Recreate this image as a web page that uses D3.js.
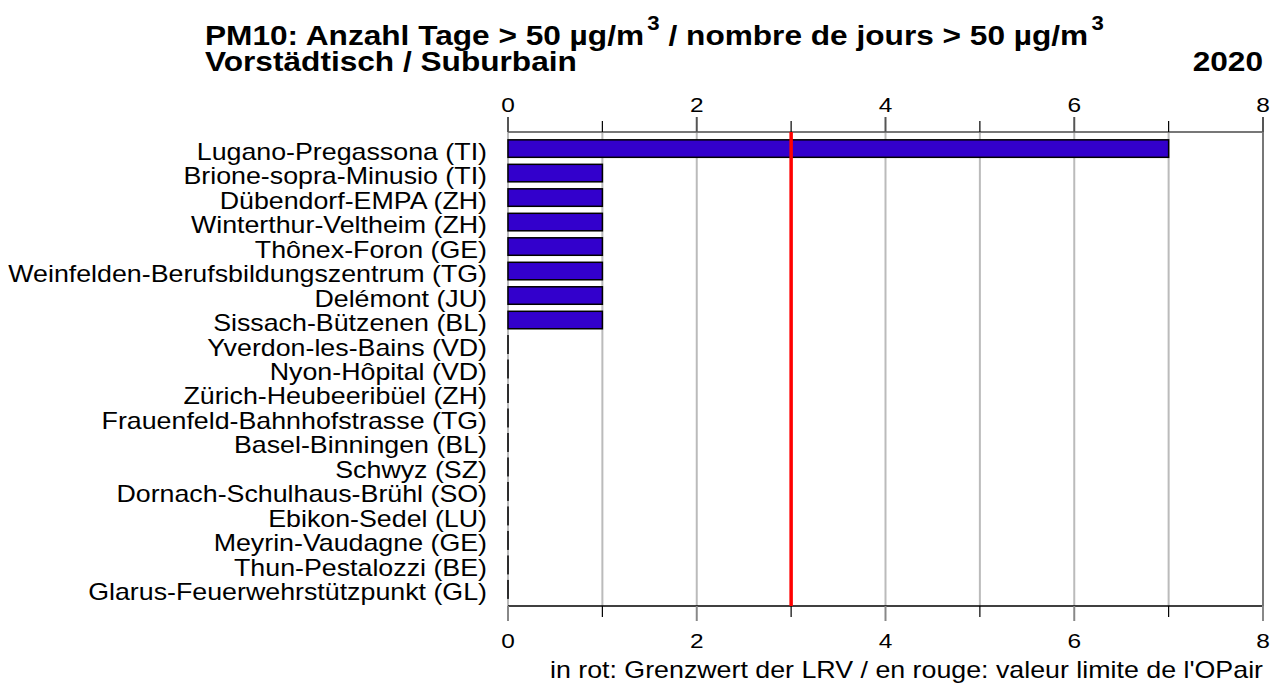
<!DOCTYPE html>
<html lang="de">
<head>
<meta charset="UTF-8">
<title>PM10 Vorstädtisch 2020</title>
<script src="https://cdn.jsdelivr.net/npm/d3@7"></script>
<style>
  body { margin: 0; background: #fff; }
  text { font-family: "Liberation Sans", Arial, sans-serif; fill: #000; }
</style>
</head>
<body>
<svg width="1280" height="683"></svg>
<script>
// stations (top to bottom) and number of days > 50 µg/m3
const stations = [
  "Lugano-Pregassona (TI)", "Brione-sopra-Minusio (TI)", "Dübendorf-EMPA (ZH)",
  "Winterthur-Veltheim (ZH)", "Thônex-Foron (GE)", "Weinfelden-Berufsbildungszentrum (TG)",
  "Delémont (JU)", "Sissach-Bützenen (BL)", "Yverdon-les-Bains (VD)", "Nyon-Hôpital (VD)",
  "Zürich-Heubeeribüel (ZH)", "Frauenfeld-Bahnhofstrasse (TG)", "Basel-Binningen (BL)",
  "Schwyz (SZ)", "Dornach-Schulhaus-Brühl (SO)", "Ebikon-Sedel (LU)", "Meyrin-Vaudagne (GE)",
  "Thun-Pestalozzi (BE)", "Glarus-Feuerwehrstützpunkt (GL)"
];
const days = [7, 1, 1, 1, 1, 1, 1, 1, 0, 0, 0, 0, 0, 0, 0, 0, 0, 0, 0];
const limit = 3;
const xTicks = [0, 2, 4, 6, 8];
const gridVals = [0, 1, 2, 3, 4, 5, 6, 7, 8];

const svg = d3.select("svg");
const plotL = 508, plotR = 1263, plotT = 132, plotB = 606;
const stretch = 1.165; // text in the original is a bit wider than Arial

const x = d3.scaleLinear().domain([0, 8]).range([plotL, plotR]);
const y = d3.scaleBand().domain(stations).range([plotT, plotB])
  .paddingInner(0.286).paddingOuter(0.32);

// grid lines
svg.append("g").selectAll("line").data(gridVals).join("line")
  .attr("x1", d => x(d)).attr("x2", d => x(d))
  .attr("y1", plotT).attr("y2", plotB)
  .attr("stroke", "#bbb").attr("stroke-width", 2);

// frame lines
svg.append("line").attr("x1", plotL).attr("x2", plotR).attr("y1", plotT).attr("y2", plotT)
  .attr("stroke", "#777").attr("stroke-width", 2);
svg.append("line").attr("x1", plotL).attr("x2", plotR).attr("y1", plotB).attr("y2", plotB)
  .attr("stroke", "#000").attr("stroke-width", 1.5);
svg.append("line").attr("x1", plotR).attr("x2", plotR).attr("y1", plotT).attr("y2", plotB)
  .attr("stroke", "#777").attr("stroke-width", 2);

// ticks, top and bottom
gridVals.forEach(v => {
  const major = xTicks.includes(v);
  svg.append("line").attr("x1", x(v)).attr("x2", x(v))
    .attr("y1", plotT - (major ? 15 : 11)).attr("y2", plotT)
    .attr("stroke", major ? "#555" : "#000").attr("stroke-width", major ? 2 : 1.2);
  svg.append("line").attr("x1", x(v)).attr("x2", x(v))
    .attr("y1", plotB).attr("y2", plotB + (major ? 15 : 11))
    .attr("stroke", major ? "#888" : "#000").attr("stroke-width", major ? 2 : 1.2);
});

function stretchedText(xPos, yPos, str, size, anchor, sx, bold) {
  const t = svg.append("text")
    .attr("transform", `translate(${xPos},${yPos}) scale(${sx},1)`)
    .attr("text-anchor", anchor).style("font-size", size + "px").text(str);
  if (bold) t.style("font-weight", "bold");
  return t;
}

xTicks.forEach(d => {
  stretchedText(x(d), 112, d, 21, "middle", stretch);
  stretchedText(x(d), 648, d, 21, "middle", stretch);
});

// bars (zero bars still show their outline as a thin line)
svg.append("g").selectAll("rect").data(days).join("rect")
  .attr("x", x(0))
  .attr("y", (d, i) => y(stations[i]))
  .attr("width", d => Math.max(x(d) - x(0), 0.01))
  .attr("height", y.bandwidth())
  .attr("fill", "#3300cc")
  .attr("stroke", "#000").attr("stroke-width", 1.5);

// limit line
svg.append("line").attr("x1", x(limit)).attr("x2", x(limit))
  .attr("y1", plotT).attr("y2", plotB)
  .attr("stroke", "#ff0000").attr("stroke-width", 3.5);

// station labels
stations.forEach(s => {
  stretchedText(487, y(s) + y.bandwidth() / 2 + 11, s, 23, "end", stretch);
});

// title
const t1 = svg.append("text").attr("transform", "translate(205,45) scale(1.11,1)")
  .style("font-size", "28.5px").style("font-weight", "bold");
t1.append("tspan").text("PM10: Anzahl Tage > 50 µg/m");
t1.append("tspan").attr("dy", -15).attr("dx", 3).style("font-size", "20px").text("3");
t1.append("tspan").attr("dy", 15).text(" / nombre de jours > 50 µg/m");
t1.append("tspan").attr("dy", -15).attr("dx", 3).style("font-size", "20px").text("3");
stretchedText(205, 71, "Vorstädtisch / Suburbain", 28.5, "start", 1.11, true);
stretchedText(1263, 71, "2020", 28.5, "end", 1.11, true);

// footnote
stretchedText(1263, 678, "in rot: Grenzwert der LRV / en rouge: valeur limite de l'OPair", 23, "end", stretch);
</script>
</body>
</html>
